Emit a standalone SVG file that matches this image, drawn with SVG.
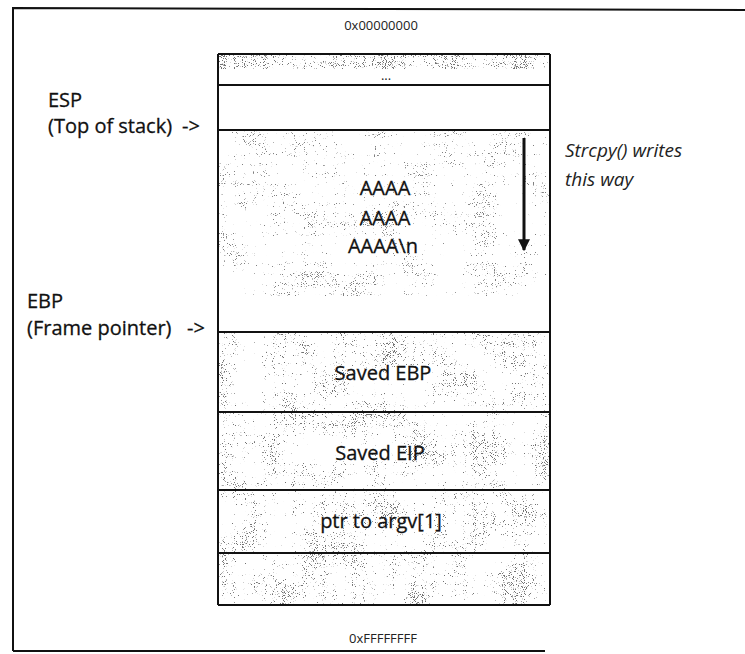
<svg xmlns="http://www.w3.org/2000/svg" width="745" height="654" viewBox="0 0 745 654">
  <defs>
    <style>
      .lbl { font-family: "Open Sans", "Liberation Sans", sans-serif; font-size: 20px; fill: #111; stroke: #111; stroke-width: 0.3; }
      .cell { font-family: "Open Sans", "Liberation Sans", sans-serif; font-size: 20px; fill: #111; stroke: #111; stroke-width: 0.3; text-anchor: middle; }
      .addr { font-family: "Open Sans", "Liberation Sans", sans-serif; font-size: 13px; fill: #222; text-anchor: middle; }
      .note { font-family: "Open Sans", "Liberation Sans", sans-serif; font-size: 19px; font-style: italic; fill: #222; }
      .rule { stroke: #111; stroke-width: 2; fill: none; }
      .frame { stroke: #111; stroke-width: 2; fill: none; }
    </style>
    <!-- speckled grey fills: fine noise, gently modulated by coarse noise, hard thresholded -->
    <filter id="stippleDense" x="0" y="0" width="1" height="1" color-interpolation-filters="sRGB">
      <feTurbulence type="fractalNoise" baseFrequency="1.1" numOctaves="1" seed="4" result="fine"/>
      <feColorMatrix in="fine" type="matrix" values="1 0 0 0 0  1 0 0 0 0  1 0 0 0 0  0 0 0 0 1" result="f"/>
      <feTurbulence type="fractalNoise" baseFrequency="0.03" numOctaves="2" seed="9" result="coarse"/>
      <feColorMatrix in="coarse" type="matrix" values="1 0 0 0 0  1 0 0 0 0  1 0 0 0 0  0 0 0 0 1" result="c"/>
      <feComposite in="f" in2="c" operator="arithmetic" k1="0" k2="1" k3="0.35" k4="-0.175" result="mix"/>
      <feColorMatrix in="mix" type="matrix" values="0 0 0 0 0.45  0 0 0 0 0.45  0 0 0 0 0.45  14 0 0 0 -8.6"/>
    </filter>
    <filter id="stipple" x="0" y="0" width="1" height="1" color-interpolation-filters="sRGB">
      <feTurbulence type="fractalNoise" baseFrequency="1.1" numOctaves="1" seed="7" result="fine"/>
      <feColorMatrix in="fine" type="matrix" values="1 0 0 0 0  1 0 0 0 0  1 0 0 0 0  0 0 0 0 1" result="f"/>
      <feTurbulence type="fractalNoise" baseFrequency="0.03" numOctaves="2" seed="3" result="coarse"/>
      <feColorMatrix in="coarse" type="matrix" values="1 0 0 0 0  1 0 0 0 0  1 0 0 0 0  0 0 0 0 1" result="c"/>
      <feComposite in="f" in2="c" operator="arithmetic" k1="0" k2="1" k3="0.35" k4="-0.175" result="mix"/>
      <feColorMatrix in="mix" type="matrix" values="0 0 0 0 0.45  0 0 0 0 0.45  0 0 0 0 0.45  14 0 0 0 -9.3"/>
    </filter>
    <filter id="stippleLight" x="0" y="0" width="1" height="1" color-interpolation-filters="sRGB">
      <feTurbulence type="fractalNoise" baseFrequency="1.1" numOctaves="1" seed="11" result="fine"/>
      <feColorMatrix in="fine" type="matrix" values="1 0 0 0 0  1 0 0 0 0  1 0 0 0 0  0 0 0 0 1" result="f"/>
      <feTurbulence type="fractalNoise" baseFrequency="0.03" numOctaves="2" seed="5" result="coarse"/>
      <feColorMatrix in="coarse" type="matrix" values="1 0 0 0 0  1 0 0 0 0  1 0 0 0 0  0 0 0 0 1" result="c"/>
      <feComposite in="f" in2="c" operator="arithmetic" k1="0" k2="1" k3="0.35" k4="-0.175" result="mix"/>
      <feColorMatrix in="mix" type="matrix" values="0 0 0 0 0.5  0 0 0 0 0.5  0 0 0 0 0.5  14 0 0 0 -9.7"/>
    </filter>
    <marker id="arrowhead" viewBox="0 0 10 10" refX="9" refY="5" markerWidth="4" markerHeight="4" orient="auto" markerUnits="strokeWidth">
      <path d="M0,0 L10,5 L0,10 z" fill="#111"/>
    </marker>
  </defs>

  <rect width="745" height="654" fill="#fff"/>

  <!-- outer page frame -->
  <g id="page-frame">
    <path class="frame" d="M13,651 L13,8 L745,10"/>
    <path class="frame" d="M13,651 L545,651" stroke-width="1.5"/>
  </g>

  <text class="addr" x="381" y="30">0x00000000</text>
  <text class="addr" x="383" y="643">0xFFFFFFFF</text>

  <!-- stack cells, top (low address) to bottom (high address) -->
  <g id="cell-dots">
    <rect x="219" y="54" width="330" height="15" fill="#fff" filter="url(#stippleDense)"/>
    <text class="addr" x="386" y="80">...</text>
  </g>
  <g id="cell-empty">
    <rect x="219" y="85" width="330" height="45" fill="#fff"/>
  </g>
  <g id="cell-buffer">
    <rect x="219" y="131" width="330" height="165" fill="#fff" filter="url(#stippleLight)"/>
    <text class="cell" x="385" y="195">AAAA</text>
    <text class="cell" x="385" y="225">AAAA</text>
    <text class="cell" x="383" y="253">AAAA\n</text>
  </g>
  <g id="cell-saved-ebp">
    <rect x="219" y="333" width="330" height="78" fill="#fff" filter="url(#stipple)"/>
    <text class="cell" x="383" y="380">Saved EBP</text>
  </g>
  <g id="cell-saved-eip">
    <rect x="219" y="413" width="330" height="76" fill="#fff" filter="url(#stipple)"/>
    <text class="cell" x="380" y="460">Saved EIP</text>
  </g>
  <g id="cell-argv">
    <rect x="219" y="491" width="330" height="61" fill="#fff" filter="url(#stipple)"/>
    <text class="cell" x="381" y="528">ptr to argv[1]</text>
  </g>
  <g id="cell-bottom">
    <rect x="219" y="554" width="330" height="50" fill="#fff" filter="url(#stipple)"/>
  </g>

  <!-- cell boundaries -->
  <g id="stack-outline">
    <path class="rule" d="M218,54 L218,605 M550,54 L550,605"/>
    <path class="rule" d="M218,54 H550 M218,85 H550 M218,130 H550 M218,412 H550 M218,490 H550 M218,553 H550 M218,605 H550"/>
    <path class="rule" d="M218,332 H550" stroke-width="2.6"/>
  </g>

  <!-- register labels -->
  <g id="label-esp">
    <text class="lbl" x="48" y="107">ESP</text>
    <text class="lbl" x="48" y="133">(Top of stack)</text>
    <text class="lbl" x="182" y="133">-&gt;</text>
  </g>
  <g id="label-ebp">
    <text class="lbl" x="27" y="308">EBP</text>
    <text class="lbl" x="27" y="335">(Frame pointer)</text>
    <text class="lbl" x="187" y="335">-&gt;</text>
  </g>
  <g id="label-strcpy">
    <text class="note" x="565" y="157">Strcpy() writes</text>
    <text class="note" x="565" y="186">this way</text>
  </g>

  <!-- write direction -->
  <g id="connectors">
    <line x1="524" y1="138" x2="524" y2="250" stroke="#111" stroke-width="3" marker-end="url(#arrowhead)"/>
  </g>
</svg>
